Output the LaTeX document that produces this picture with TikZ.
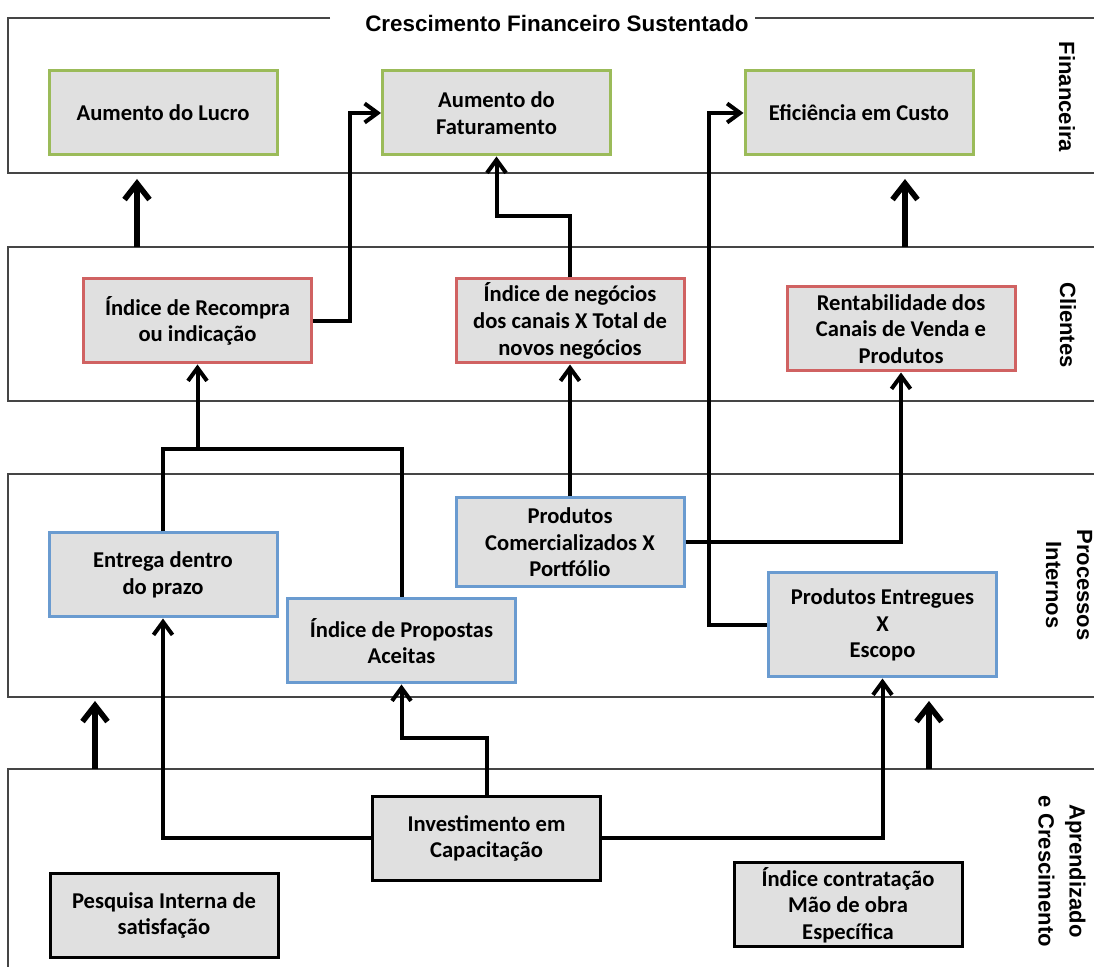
\documentclass[tikz,border=0pt]{standalone}
\usepackage{fontspec}
\newfontfamily\carlito{Carlito}
\newfontfamily\arial{Liberation Sans}
\usetikzlibrary{arrows.meta}
\definecolor{cinza}{HTML}{E0E0E0}
\definecolor{verde}{HTML}{9BBB59}
\definecolor{vermelho}{HTML}{D06262}
\definecolor{azul}{HTML}{6A9BD0}
\definecolor{borda}{HTML}{454545}

\begin{document}
\begin{tikzpicture}[x=0.5pt,y=-0.5pt,
	caixa/.style={draw,line width=1.5pt,fill=cinza,minimum width=114pt,minimum height=42pt,inner sep=2pt,align=center,font=\carlito\bfseries\fontsize{11.3}{13.3}\selectfont},
	fin/.style={caixa,draw=verde},
	cli/.style={caixa,draw=vermelho},
	proc/.style={caixa,draw=azul},
	apr/.style={caixa,draw=black},
	banda/.style={draw=borda,line width=0.9pt},
	rotulo/.style={rotate=-90,align=center,font=\arial\bfseries\fontsize{11}{15.5}\selectfont},
	linha/.style={line width=2pt},
	seta/.style={line width=2pt,-{Straight Barb[length=6.5pt,width=9.5pt]}},
	grossa/.style={line width=2.8pt,-{Straight Barb[length=8pt,width=12.5pt]}}]
				\useasboundingbox (0,0) rectangle (1094,967);

				%Faixas zeichnen
				\draw[banda] (330,18) -- (8,18) -- (8,173) -- (1100,173);
				\draw[banda] (755,18) -- (1100,18);
				\foreach \o/\u in {247/401,474/697}
					\draw[banda] (1100,\o) -- (8,\o) -- (8,\u) -- (1100,\u);
				\draw[banda] (1100,769) -- (8,769) -- (8,975);

				\node[font=\arial\bfseries\fontsize{11.2}{13}\selectfont] (titulo) at (557,24) {Crescimento Financeiro Sustentado};
				\node[rotulo] (rfin) at (1067,97) {Financeira};
				\node[rotulo] (rcli) at (1068,325) {Clientes};
				\node[rotulo] (rproc) at (1069,585) {Processos\\Internos};
				\node[rotulo] (rapr) at (1062,871) {Aprendizado\\e Crescimento};

				%Caixas
				\node[fin] (lucro) at (163,113) {Aumento do Lucro};
				\node[fin] (faturamento) at (496.5,113) {Aumento do\\Faturamento};
				\node[fin] (eficiencia) at (859,113) {Eficiência em Custo};
				\node[cli] (recompra) at (197.5,321) {Índice de Recompra\\ou indicação};
				\node[cli] (negocios) at (570,321) {Índice de negócios\\dos canais X Total de\\novos negócios};
				\node[cli] (rentabilidade) at (901,329) {Rentabilidade dos\\Canais de Venda e\\Produtos};
				\node[proc] (entrega) at (163,575) {Entrega dentro\\do prazo};
				\node[proc] (propostas) at (401.5,641) {Índice de Propostas\\Aceitas};
				\node[proc,minimum height=44.5pt] (comercializados) at (570,542.5) {Produtos\\Comercializados X\\Portfólio};
				\node[proc,minimum height=52pt] (entregues) at (882.5,625) {Produtos Entregues\\X\\Escopo};
				\node[apr] (investimento) at (486.5,838.5) {Investimento em\\Capacitação};
				\node[apr] (pesquisa) at (164,915.5) {Pesquisa Interna de\\satisfação};
				\node[apr] (contratacao) at (848,905) {Índice contratação\\Mão de obra\\Específica};

				%Setas entre as faixas
				\foreach \n/\x/\y in {a/137/247,b/905/247,c/95/769,d/929/769}{
					\coordinate (base\n) at (\x,\y);
					\coordinate (ponta\n) at (\x,\y-68);
					\draw[grossa] (base\n) -- (ponta\n);
				}

				%Ligacoes
				\draw[seta] (recompra.east) -- ++(37,0) |- (faturamento.west);
				\draw[seta] (negocios.north) -- ++(0,-61) -| (faturamento.south);
				\draw[seta] (entregues.west) -- ++(-58,0) |- (eficiencia.west);
				\draw[seta] (comercializados.north) -- (negocios.south);
				\draw[seta] (comercializados.east) -| (rentabilidade.south);
				\path (recompra.south) ++(0,85) coordinate (juncao);
				\draw[linha] (entrega.north) |- (juncao) -| (propostas.north);
				\draw[seta] (juncao) -- (recompra.south);
				\draw[seta] (investimento.west) -| (entrega.south);
				\draw[seta] (investimento.north) -- ++(0,-57) -| (propostas.south);
				\draw[seta] (investimento.east) -| (entregues.south);
\end{tikzpicture}
\end{document}
